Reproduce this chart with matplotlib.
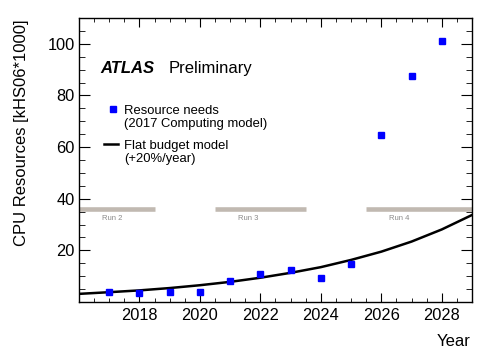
import numpy as np
import matplotlib.pyplot as plt
from matplotlib.ticker import MultipleLocator

plt.rcParams['font.family'] = ['Liberation Sans', 'DejaVu Sans']

# resource needs (2017 computing model)
years = [2017, 2018, 2019, 2020, 2021, 2022, 2023, 2024, 2025, 2026, 2027, 2028]
needs = [3.75, 3.6, 4.0, 4.0, 8.0, 10.8, 12.5, 9.3, 14.8, 64.7, 87.5, 101.2]

# flat budget model at each year
budget_years = [2016, 2017, 2018, 2019, 2020, 2021, 2022, 2023, 2024, 2025, 2026, 2027, 2028, 2029]
budget = [3.15, 3.8, 4.5, 5.4, 6.5, 7.8, 9.4, 11.3, 13.5, 16.3, 19.5, 23.4, 28.1, 33.7]

# LHC run periods
run_names = ['Run 2', 'Run 3', 'Run 4']
run_start = [2016.0, 2020.5, 2025.5]
run_end = [2018.5, 2023.5, 2029.0]
run_level = 35.9

x_ticks = [2018, 2020, 2022, 2024, 2026, 2028]
y_ticks = [20, 40, 60, 80, 100]

W, H = 498, 360
fig = plt.figure(figsize=(W / 100, H / 100), dpi=100)
ax = fig.add_axes([79 / W, 1 - 302 / H, (472 - 79) / W, (302 - 18) / H])

for name, s, e in zip(run_names, run_start, run_end):
    ax.hlines(run_level, s, e, color='#c1b9b1', lw=3.3, zorder=1)
    ax.text(s + 1.1, run_level - 2.3, name, fontsize=5.5, color='#8a8a8a',
            ha='center', va='top')

ax.plot(budget_years, budget, color='black', lw=1.8, zorder=2)
ax.plot(years, needs, 's', color='#0000ff', ms=5, mec='#0000ff', zorder=3)

ax.set_xlim(2016, 2029)
ax.set_ylim(0, 110)
ax.set_xticks(x_ticks)
ax.xaxis.set_minor_locator(MultipleLocator(0.5))
ax.set_yticks(y_ticks)
ax.yaxis.set_minor_locator(MultipleLocator(5))
ax.tick_params(which='both', direction='in', top=True, right=True, labelsize=11.8)
ax.tick_params(axis='x', which='major', length=6.5, pad=4)
ax.tick_params(axis='x', which='minor', length=3.2)
ax.tick_params(axis='y', which='major', length=8, pad=3)
ax.tick_params(axis='y', which='minor', length=4.3)
for sp in ax.spines.values():
    sp.set_linewidth(1.0)

fig.text(471 / W, 1 - 342 / H, 'Year', fontsize=12, ha='right', va='center')
fig.text(22 / W, 1 - 133 / H, 'CPU Resources [kHS06*1000]', fontsize=12,
         rotation=90, ha='center', va='center')

fig.text(100 / W, 1 - 73 / H, 'ATLAS', fontsize=12, fontweight='bold',
         fontstyle='italic', ha='left', va='baseline')
fig.text(169 / W, 1 - 73 / H, 'Preliminary', fontsize=12, ha='left', va='baseline')

# legend drawn by hand, ROOT style
fig.lines.append(plt.Line2D([112.7 / W], [1 - 108.7 / H], marker='s', ms=4,
                            color='#0000ff', ls='none', transform=fig.transFigure))
fig.text(124 / W, 1 - 114 / H, 'Resource needs', fontsize=9.4, va='baseline')
fig.text(124 / W, 1 - 126.5 / H, '(2017 Computing model)', fontsize=9.4, va='baseline')
fig.lines.append(plt.Line2D([104 / W, 118 / W], [1 - 144.3 / H, 1 - 144.3 / H],
                            color='black', lw=1.8, transform=fig.transFigure))
fig.text(124 / W, 1 - 149.3 / H, 'Flat budget model', fontsize=9.4, va='baseline')
fig.text(124 / W, 1 - 161.8 / H, '(+20%/year)', fontsize=9.4, va='baseline')

fig.savefig('out.png', dpi=100)
